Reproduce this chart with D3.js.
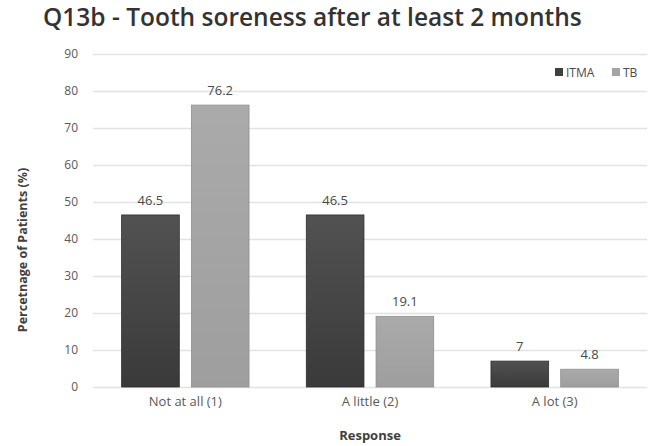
<!DOCTYPE html>
<html>
<head>
<meta charset="utf-8">
<script src="https://cdn.jsdelivr.net/npm/d3@7"></script>
<style>
  body { margin: 0; background: #fff; }
  text { font-family: "Open Sans", "DejaVu Sans", sans-serif; }
</style>
</head>
<body>
<div id="chart"></div>
<script>
// data
const categories = ['Not at all (1)', 'A little (2)', 'A lot (3)'];
const seriesNames = ['ITMA', 'TB'];
const itmaValues = [46.5, 46.5, 7];
const tbValues = [76.2, 19.1, 4.8];
const yTicks = [0, 10, 20, 30, 40, 50, 60, 70, 80, 90];

const width = 657, height = 446;
const plot = { left: 93, right: 647, top: 54, bottom: 387 };

const svg = d3.select('#chart').append('svg')
  .attr('width', width)
  .attr('height', height);

// gradients for the bars
const defs = svg.append('defs');
const grads = [
  { id: 'gItma', c1: '#525252', c2: '#3a3a3a' },
  { id: 'gTb', c1: '#aaaaaa', c2: '#9e9e9e' }
];
grads.forEach(g => {
  const lg = defs.append('linearGradient').attr('id', g.id)
    .attr('x1', 0).attr('y1', 0).attr('x2', 0).attr('y2', 1);
  lg.append('stop').attr('offset', '0%').attr('stop-color', g.c1);
  lg.append('stop').attr('offset', '100%').attr('stop-color', g.c2);
});
const fills = ['url(#gItma)', 'url(#gTb)'];
const legendColors = ['#404040', '#a4a4a4'];

const x0 = d3.scaleBand().domain(categories).range([plot.left, plot.right]).paddingInner(0.31).paddingOuter(0.155);
const x1 = d3.scaleBand().domain(seriesNames).range([0, x0.bandwidth()]).paddingInner(0.173);
const y = d3.scaleLinear().domain([0, 90]).range([plot.bottom, plot.top]);

// gridlines
svg.append('g').selectAll('line')
  .data(yTicks)
  .enter().append('line')
  .attr('x1', plot.left)
  .attr('x2', plot.right)
  .attr('y1', d => y(d) + 0.5)
  .attr('y2', d => y(d) + 0.5)
  .attr('stroke', '#e3e3e3')
  .attr('stroke-width', 1.5);

// y axis labels
const yAxis = d3.axisLeft(y).tickValues(yTicks).tickSize(0).tickPadding(0);
const gy = svg.append('g')
  .attr('transform', 'translate(78,0)')
  .call(yAxis);
gy.select('.domain').remove();
gy.selectAll('text').style('font-size', '12px').attr('fill', '#595959');

// x axis labels
const xAxis = d3.axisBottom(x0).tickSize(0).tickPadding(10);
const gx = svg.append('g')
  .attr('transform', 'translate(0,' + plot.bottom + ')')
  .call(xAxis);
gx.select('.domain').remove();
gx.selectAll('text').style('font-size', '13px').attr('fill', '#595959');

// bars
const data = categories.map((c, i) => ({ cat: c, vals: [itmaValues[i], tbValues[i]] }));
const groups = svg.append('g').selectAll('g')
  .data(data)
  .enter().append('g')
  .attr('transform', d => 'translate(' + x0(d.cat) + ',0)');

groups.selectAll('rect')
  .data(d => d.vals.map((v, j) => ({ name: seriesNames[j], v: v, j: j })))
  .enter().append('rect')
  .attr('x', d => x1(d.name))
  .attr('y', d => y(d.v))
  .attr('width', x1.bandwidth())
  .attr('height', d => y(0) - y(d.v))
  .attr('fill', d => fills[d.j])
  .attr('stroke', d => d.j === 0 ? '#2e2e2e' : '#909090')
  .attr('stroke-width', 0.8);

groups.selectAll('text.val')
  .data(d => d.vals.map((v, j) => ({ name: seriesNames[j], v: v })))
  .enter().append('text')
  .attr('class', 'val')
  .attr('x', d => x1(d.name) + x1.bandwidth() / 2)
  .attr('y', d => y(d.v) - 10)
  .attr('text-anchor', 'middle')
  .style('font-size', '13px')
  .attr('fill', '#4a4a4a')
  .text(d => d.v);

// title
svg.append('text')
  .attr('x', 43)
  .attr('y', 26)
  .style('font-size', '24.5px')
  .style('font-weight', 600)
  .attr('fill', '#333')
  .text('Q13b - Tooth soreness after at least 2 months');

// axis titles
svg.append('text')
  .attr('transform', 'translate(27,250) rotate(-90)')
  .attr('text-anchor', 'middle')
  .style('font-size', '12.5px')
  .style('font-weight', 700)
  .attr('fill', '#404040')
  .text('Percetnage of Patients (%)');

svg.append('text')
  .attr('x', 370)
  .attr('y', 440)
  .attr('text-anchor', 'middle')
  .style('font-size', '13px')
  .style('font-weight', 700)
  .attr('fill', '#404040')
  .text('Response');

// legend
const legendItems = [{ name: 'ITMA', x: 555 }, { name: 'TB', x: 612 }];
const lg = svg.append('g');
legendItems.forEach((d, i) => {
  lg.append('rect')
    .attr('x', d.x).attr('y', 68)
    .attr('width', 8).attr('height', 8)
    .attr('fill', legendColors[i]);
  lg.append('text')
    .attr('x', d.x + 11).attr('y', 77)
    .style('font-size', '12px')
    .attr('fill', '#4a4a4a')
    .text(d.name);
});
</script>
</body>
</html>
